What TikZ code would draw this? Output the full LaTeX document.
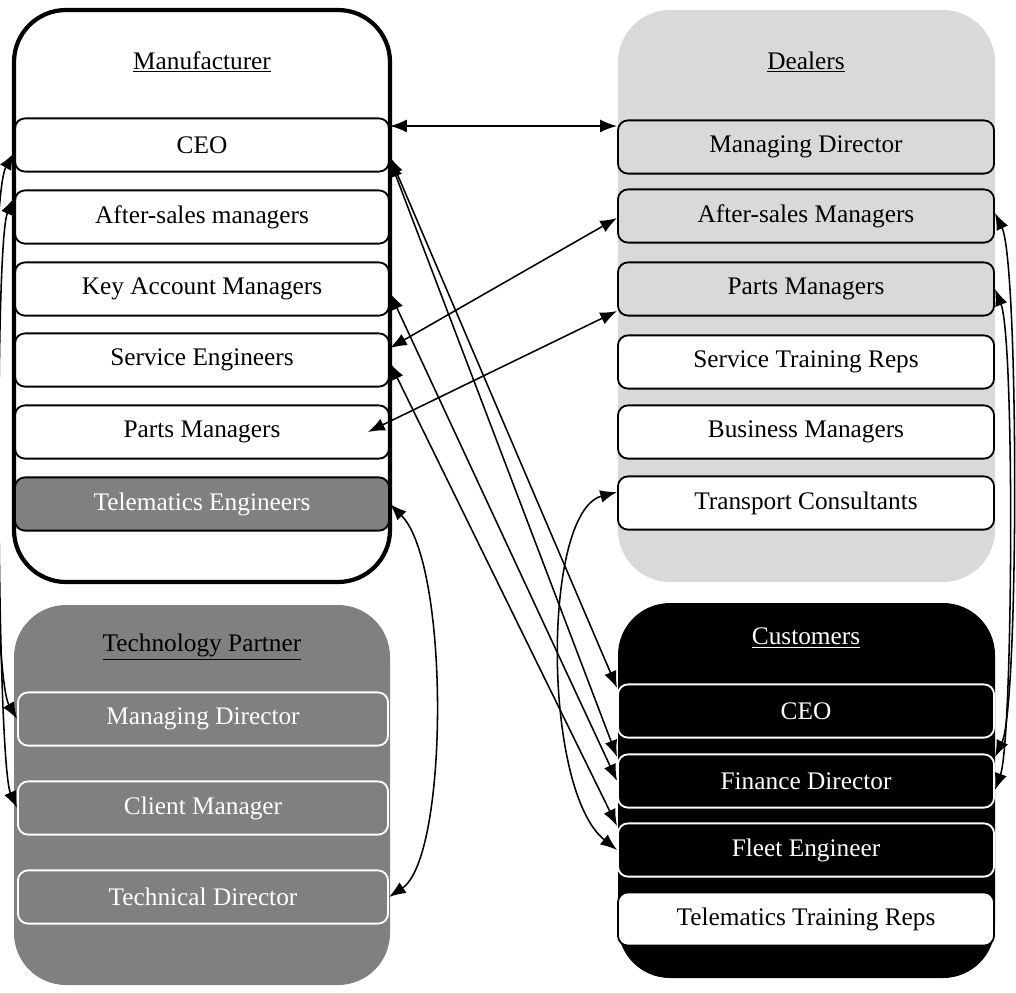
\documentclass[tikz,border=0pt]{standalone}
\usepackage{fontspec}
\setmainfont{Liberation Serif}
\usetikzlibrary{arrows.meta}
\definecolor{dealergray}{HTML}{D9D9D9}
\definecolor{partnergray}{HTML}{808080}

\begin{document}
\begin{tikzpicture}[x=0.025cm, y=-0.025cm,
            font=\fontsize{18}{22}\selectfont,
            group/.style={rounded corners=1.3cm},
            role/.style={draw, rounded corners=0.25cm, line width=1.3pt, minimum width=9.35cm, minimum height=1.33cm, inner sep=0pt},
            partnerrole/.style={role, draw=white, fill=partnergray, text=white, minimum width=9.25cm},
            customerrole/.style={role, draw=white, fill=black, text=white, minimum width=9.4cm},
            dealerrole/.style={role, minimum width=9.4cm},
            link/.style={{Latex[length=4.2mm,width=3.2mm]}-{Latex[length=4.2mm,width=3.2mm]}, line width=1.1pt}]
            \useasboundingbox (0,0) rectangle (1016,992);

            \draw[group, line width=3pt, fill=white] (14,10) rectangle (390,582);
            \fill[group, dealergray] (618,10) rectangle (995,582);
            \fill[group, partnergray] (14,605) rectangle (390,985);
            \fill[group, black] (618,603) rectangle (995,978);

            \node (tmfr) at (202,62) {\underline{Manufacturer}};
            \node[role] (mceo) at (202,145) {CEO};
            \node[role] (masm) at (202,217) {After-sales managers};
            \node[role] (mkam) at (202,289) {Key Account Managers};
            \node[role] (mse) at (202,360) {Service Engineers};
            \node[role] (mpm) at (202,432) {Parts Managers};
            \node[role, fill=partnergray, text=white] (mte) at (202,504) {Telematics Engineers};

            \node (tdealers) at (806,62) {\underline{Dealers}};
            \node[dealerrole, fill=dealergray] (dmd) at (806,147) {Managing Director};
            \node[dealerrole, fill=dealergray] (dasm) at (806,216) {After-sales Managers};
            \node[dealerrole, fill=dealergray] (dpm) at (806,289) {Parts Managers};
            \node[dealerrole, fill=white] (dstr) at (806,362) {Service Training Reps};
            \node[dealerrole, fill=white] (dbm) at (806,432) {Business Managers};
            \node[dealerrole, fill=white] (dtc) at (806,503) {Transport Consultants};

            \node (tpartner) at (202,647) {\underline{Technology Partner}};
            \node[partnerrole] (tmd) at (203,719) {Managing Director};
            \node[partnerrole] (tcm) at (203,808) {Client Manager};
            \node[partnerrole] (ttd) at (203,897) {Technical Director};

            \node[text=white] (tcust) at (806,638) {\underline{Customers}};
            \node[customerrole] (cceo) at (806,711) {CEO};
            \node[customerrole] (cfd) at (806,781) {Finance Director};
            \node[customerrole] (cfe) at (806,850) {Fleet Engineer};
            \node[dealerrole, fill=white] (cttr) at (806,919) {Telematics Training Reps};

            \draw[link] ([yshift=0.475cm]mceo.east) -- ([yshift=0.525cm]dmd.west);
            \draw[link] ([yshift=-0.3cm]mceo.east) -- ([yshift=0.575cm]cceo.west);
            \draw[link] ([yshift=-0.38cm]mceo.east) -- ([yshift=0.6cm]cfd.west);
            \draw[link] ([yshift=-0.1cm]mkam.east) -- (cfd.west);
            \draw[link] ([yshift=-0.075cm]mse.east) -- ([yshift=0.6cm]cfe.west);
            \draw[link] ([yshift=0.3cm]mse.east) -- ([yshift=-0.05cm]dasm.west);
            \draw[link] ([xshift=-0.55cm]mpm.east) -- ([yshift=-0.55cm]dpm.west);
            \draw[link] (mte.east) .. controls +(60,60) and +(60,-40) .. (ttd.east);
            \draw[link] ([yshift=0.275cm]dtc.west) .. controls +(-75,20) and +(-75,-60) .. (cfe.west);
            \draw[link] ([yshift=-0.2cm]mceo.west) .. controls +(-26,45) and +(-26,-45) .. (tmd.west);
            \draw[link] ([yshift=0.475cm]masm.west) .. controls +(-20,45) and +(-20,-45) .. (tcm.west);
            \draw[link] ([yshift=0.075cm]dasm.east) .. controls +(24,50) and +(24,-50) .. ([yshift=0.6cm]cfd.east);
            \draw[link] (dpm.east) .. controls +(20,50) and +(18,-50) .. ([yshift=-0.225cm]cfd.east);
        \end{tikzpicture}
\end{document}
